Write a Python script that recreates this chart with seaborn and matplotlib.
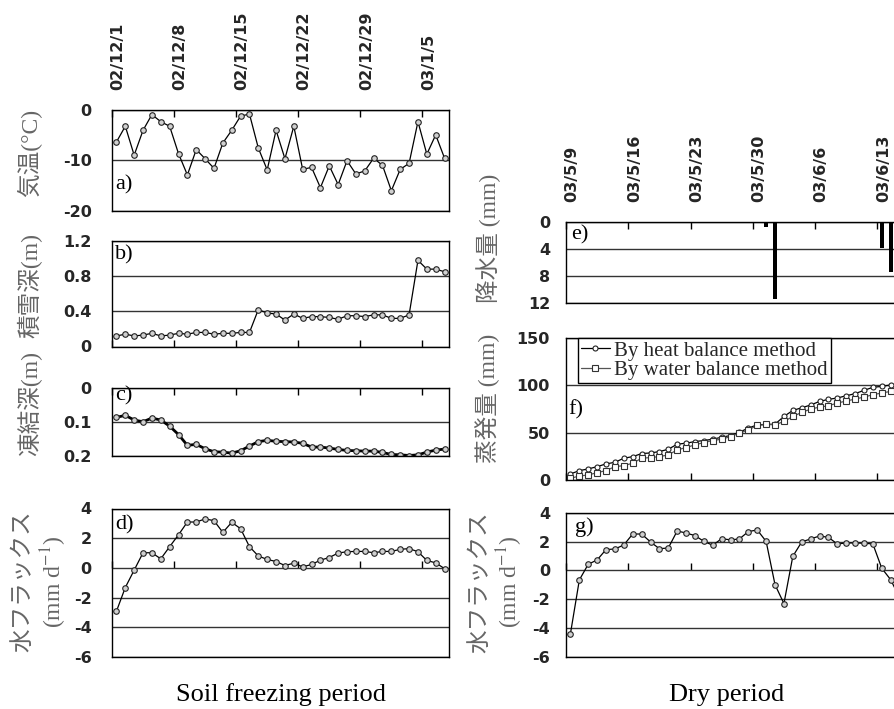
import numpy as np
import matplotlib
matplotlib.use("Agg")
import matplotlib.pyplot as plt
import matplotlib.transforms as mtransforms
import seaborn as sns

# ---------------- Soil freezing period (daily, from 2002/12/1) ----------------
freeze_ticklabels = ["02/12/1", "02/12/8", "02/12/15", "02/12/22", "02/12/29", "03/1/5"]
air_temp = [-6.4, -3.3, -9.0, -4.1, -1.0, -2.4, -3.3, -8.7, -12.9, -7.9,
            -9.7, -11.6, -6.6, -4.1, -1.3, -0.9, -7.6, -11.9, -4.1, -9.7,
            -3.3, -11.8, -11.4, -15.4, -11.1, -14.8, -10.1, -12.7, -12.1, -9.6,
            -11.0, -16.0, -11.8, -10.6, -2.4, -8.8, -5.0, -9.6]
snow_depth = [0.12, 0.14, 0.12, 0.13, 0.15, 0.12, 0.13, 0.15, 0.14, 0.16,
              0.16, 0.14, 0.15, 0.15, 0.16, 0.16, 0.42, 0.38, 0.37, 0.30,
              0.37, 0.32, 0.34, 0.34, 0.33, 0.31, 0.35, 0.35, 0.34, 0.36,
              0.36, 0.32, 0.32, 0.36, 0.98, 0.88, 0.88, 0.85]
frost_depth = [0.087, 0.081, 0.095, 0.100, 0.089, 0.095, 0.113, 0.138, 0.170, 0.167,
               0.180, 0.189, 0.190, 0.193, 0.186, 0.172, 0.159, 0.155, 0.158, 0.159,
               0.160, 0.164, 0.175, 0.175, 0.178, 0.182, 0.185, 0.186, 0.187, 0.187,
               0.191, 0.197, 0.198, 0.200, 0.198, 0.190, 0.184, 0.181]
flux_freeze = [-2.92, -1.32, -0.15, 1.02, 1.02, 0.61, 1.43, 2.23, 3.09, 3.09,
               3.30, 3.18, 2.39, 3.07, 2.64, 1.43, 0.80, 0.57, 0.43, 0.16,
               0.32, 0.07, 0.23, 0.52, 0.70, 1.00, 1.09, 1.11, 1.11, 1.02,
               1.11, 1.11, 1.25, 1.30, 1.09, 0.50, 0.34, -0.05]

# ---------------- Dry period (daily, from 2003/5/9) ----------------
dry_ticklabels = ["03/5/9", "03/5/16", "03/5/23", "03/5/30", "03/6/6", "03/6/13"]
precip = [0, 0, 0, 0, 0, 0, 0, 0, 0, 0,
          0, 0, 0, 0, 0, 0, 0, 0, 0, 0,
          0, 0, 0.8, 11.5, 0, 0, 0, 0, 0, 0,
          0, 0, 0, 0, 0, 3.9, 7.5]
evap_heat = [6.4, 9.9, 11.7, 14.1, 17.0, 18.7, 23.0, 24.7, 27.9, 28.6,
             30.0, 32.5, 37.8, 38.9, 40.6, 41.7, 43.1, 45.2, 47.0, 50.5,
             54.8, 58.3, 58.7, 59.0, 67.1, 73.5, 76.3, 79.2, 83.0, 85.2,
             86.6, 89.0, 91.2, 94.7, 97.9, 98.9, 100.4]
evap_water = [1.8, 4.2, 5.3, 7.8, 9.9, 14.1, 15.2, 17.7, 23.0, 23.7,
              24.7, 26.5, 31.8, 34.3, 37.1, 39.6, 41.7, 43.1, 45.9, 49.5,
              53.0, 57.6, 58.7, 58.3, 61.8, 67.1, 71.4, 74.9, 77.0, 78.4,
              81.3, 83.4, 85.5, 87.6, 90.1, 91.9, 93.6]
flux_dry = [-4.40, -0.67, 0.42, 0.72, 1.44, 1.48, 1.76, 2.52, 2.52, 1.97,
            1.50, 1.55, 2.73, 2.59, 2.41, 2.01, 1.74, 2.20, 2.11, 2.18,
            2.69, 2.80, 2.01, -1.00, -2.31, 0.97, 1.97, 2.18, 2.38, 2.29,
            1.83, 1.90, 1.90, 1.88, 1.83, 0.14, -0.65, -1.90]

TICK_DAYS = [0, 7, 14, 21, 28, 35]
N_DAYS = 38

sns.set_style("white")
plt.rcParams["font.family"] = ["DejaVu Sans"]
plt.rcParams["mathtext.fontset"] = "stix"

W, H = 894, 709
fig = plt.figure(figsize=(W / 100, H / 100), dpi=100)


def px_rect(left, top, right, bottom):
    return [left / W, 1 - bottom / H, (right - left) / W, (bottom - top) / H]


def day_x(values):
    return np.arange(len(values)) + 0.5


SERIF = ["Liberation Serif", "Noto Sans CJK JP"]
LABEL_COLOR = "#666666"
tick_shift = mtransforms.ScaledTranslation(6 / 100, 0, fig.dpi_scale_trans)


def style_axes(ax, yticks, yticklabels, ylim, tick_side, ylabel_pad, date_labels=None):
    ax.set_xlim(0, N_DAYS)
    ax.set_ylim(*ylim)
    ax.set_yticks(yticks)
    ax.set_yticklabels(yticklabels)
    ax.yaxis.grid(True, color="#333333", lw=1.0)
    ax.xaxis.grid(False)
    for sp in ax.spines.values():
        sp.set_visible(True)
        sp.set_color("black")
        sp.set_linewidth(1.0)
    ax.tick_params(axis="y", left=False, length=0, pad=ylabel_pad, labelsize=11.5)
    for lab in ax.get_yticklabels():
        lab.set_fontweight("bold")
    ax.set_xlabel("")
    ax.set_ylabel("")
    ax.set_xticks(TICK_DAYS)
    if tick_side in ("top", "bottom"):
        ax.tick_params(axis="x", direction="in", length=5, width=1, color="black",
                       top=(tick_side == "top"), bottom=(tick_side == "bottom"),
                       labeltop=False, labelbottom=False)
    else:
        # zero line sits inside the panel: put the day ticks on it
        ax.tick_params(axis="x", top=False, bottom=False, labeltop=False, labelbottom=False)
        sec = ax.secondary_xaxis(tick_side)
        sec.set_xticks(TICK_DAYS)
        sec.tick_params(axis="x", direction="out", length=5, width=1, color="black",
                        labeltop=False, labelbottom=False)
        for sp in sec.spines.values():
            sp.set_visible(False)
    if date_labels is not None:
        ax.set_xticklabels(date_labels)
        ax.tick_params(axis="x", labeltop=True, labelrotation=90, pad=14, labelsize=11.5)
        for lab in ax.get_xticklabels():
            lab.set_fontweight("bold")
            lab.set_transform(lab.get_transform() + tick_shift)


line_kw = dict(color="black", lw=0.9, marker="o", markersize=4,
               markerfacecolor="#d0d0d0", markeredgecolor="#222222", markeredgewidth=0.8)

# a) air temperature
ax_a = fig.add_axes(px_rect(112, 109.5, 449, 211))
sns.lineplot(x=day_x(air_temp), y=air_temp, ax=ax_a, **line_kw)
style_axes(ax_a, [0, -10, -20], ["0", "-10", "-20"], (-20, 0), "top", 14.5,
           date_labels=freeze_ticklabels)

# b) snow depth
ax_b = fig.add_axes(px_rect(112, 241, 449, 346.5))
sns.lineplot(x=day_x(snow_depth), y=snow_depth, ax=ax_b, **line_kw)
style_axes(ax_b, [0, 0.4, 0.8, 1.2], ["0", "0.4", "0.8", "1.2"], (0, 1.2), "bottom", 14.5)

# c) frost depth
ax_c = fig.add_axes(px_rect(112, 388, 449, 455.5))
sns.lineplot(x=day_x(frost_depth), y=frost_depth, ax=ax_c,
             **{**line_kw, "lw": 2.0})
style_axes(ax_c, [0, 0.1, 0.2], ["0", "0.1", "0.2"], (0.2, 0), "top", 14.5)

# d) water flux, freezing period
ax_d = fig.add_axes(px_rect(112, 508.5, 449, 657))
sns.lineplot(x=day_x(flux_freeze), y=flux_freeze, ax=ax_d, **line_kw)
style_axes(ax_d, [-6, -4, -2, 0, 2, 4], ["-6", "-4", "-2", "0", "2", "4"], (-6, 4), 0.6, 14.5)

# e) precipitation (bars hang down from the top)
ax_e = fig.add_axes(px_rect(566, 221.7, 904, 302.7))
ax_e.bar(day_x(precip), precip, width=0.48, color="black", linewidth=0, zorder=3)
style_axes(ax_e, [0, 4, 8, 12], ["0", "4", "8", "12"], (12, 0), "top", 11.5,
           date_labels=dry_ticklabels)

# f) cumulative evaporation
ax_f = fig.add_axes(px_rect(566, 338, 904, 480))
sns.lineplot(x=day_x(evap_heat), y=evap_heat, ax=ax_f, color="black", lw=0.9,
             marker="o", markersize=3.6, markerfacecolor="white",
             markeredgecolor="#222222", markeredgewidth=0.8,
             label="By heat balance method")
sns.lineplot(x=day_x(evap_water), y=evap_water, ax=ax_f, color="#555555", lw=0.9,
             marker="s", markersize=4.5, markerfacecolor="white",
             markeredgecolor="#333333", markeredgewidth=0.8,
             label="By water balance method")
style_axes(ax_f, [0, 50, 100, 150], ["0", "50", "100", "150"], (0, 150), "bottom", 11.5)
leg = ax_f.legend(loc="upper left", bbox_to_anchor=(11.7 / 338, 1.0),
                  borderaxespad=0, frameon=True, fancybox=False, framealpha=1,
                  edgecolor="black", prop={"family": "Liberation Serif", "size": 15},
                  handlelength=1.4, handletextpad=0.2, borderpad=0.15,
                  labelspacing=0.0)
leg.get_frame().set_linewidth(1.0)

# g) water flux, dry period
ax_g = fig.add_axes(px_rect(566, 512.7, 904, 656.7))
sns.lineplot(x=day_x(flux_dry), y=flux_dry, ax=ax_g, **line_kw)
style_axes(ax_g, [-6, -4, -2, 0, 2, 4], ["-6", "-4", "-2", "0", "2", "4"], (-6, 4), 0.6, 11.5)


def ftext(x, y, s, **kw):
    fig.text(x / W, 1 - y / H, s, **kw)


ylab = dict(rotation=90, ha="center", va="center", fontsize=17,
            color=LABEL_COLOR, family=SERIF)
ftext(30, 153, "気温(°C)", **ylab)
ftext(30, 286, "積雪深(m)", **ylab)
ftext(30, 404, "凍結深(m)", **ylab)
ftext(23, 581, "水フラックス", **ylab)
ftext(54, 582, r"(mm d$^{-1}$)", **ylab)
ftext(489, 238, "降水量 (mm)", **ylab)
ftext(488, 398, "蒸発量 (mm)", **ylab)
ftext(480, 582, "水フラックス", **ylab)
ftext(510, 582, r"(mm d$^{-1}$)", **ylab)

panel = dict(ha="left", va="center", fontsize=16, family="Liberation Serif", color="black")
ftext(115, 185, "a)", **panel)
ftext(115, 255, "b)", **panel)
ftext(115, 396, "c)", **panel)
ftext(115, 525, "d)", **panel)
ftext(571, 235, "e)", **panel)
ftext(568, 410, "f)", **panel)
ftext(575, 527, "g)", **panel)

title = dict(ha="center", va="center", fontsize=19, family="Liberation Serif", color="black")
ftext(281, 695, "Soil freezing period", **title)
ftext(727, 695, "Dry period", **title)

fig.savefig("out.png", dpi=100, facecolor="white")
